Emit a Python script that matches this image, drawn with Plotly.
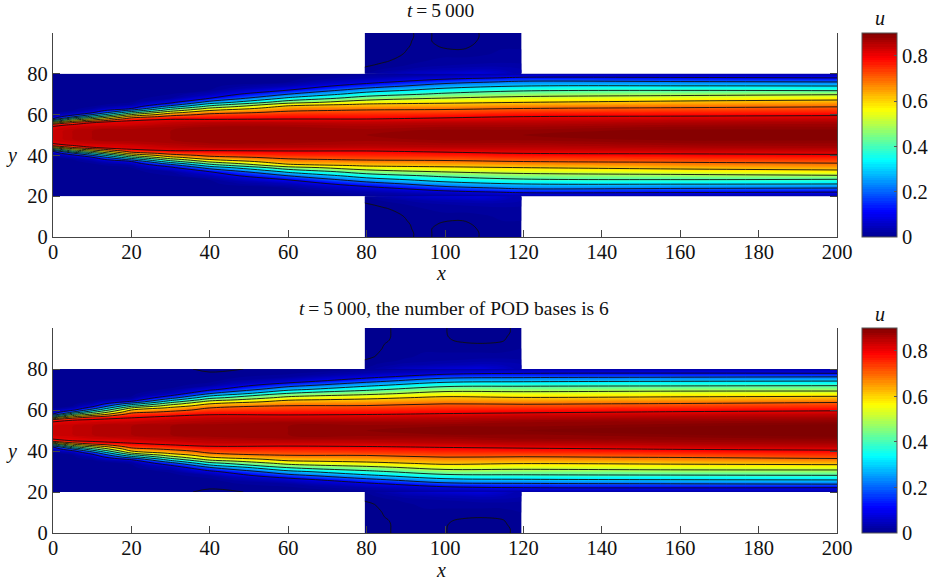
import plotly.graph_objects as go

FONT = "Liberation Serif"
W, H = 935, 580
L, R, T, B = 53, 837, 33, 533  # plot-area edges in pixels

# Offsets from the channel centre line (y = 50), channel half-height is 30
offsets = [0, 2, 4, 5, 6, 7, 8, 9, 10, 11, 12, 13, 14, 15, 16, 18, 20, 22, 24, 26, 28, 30]
stations = [0, 5, 10, 20, 30, 40, 60, 80, 100, 120, 160, 200]

# u read at each x station (one list per station, same order as offsets)
u_top = [
 [.83,.83,.81,.76,.55,.32,.10,.04,.02,.01,.005,.004,.004,.004,.004,.004,.004,.004,.004,.004,.004,.004],
 [.85,.85,.83,.81,.72,.55,.38,.18,.07,.03,.01,.005,.004,.004,.004,.004,.004,.004,.004,.004,.004,.004],
 [.86,.86,.84,.82,.80,.66,.50,.34,.20,.09,.04,.02,.01,.005,.004,.004,.004,.004,.004,.004,.004,.004],
 [.87,.87,.85,.83,.82,.80,.74,.64,.50,.37,.23,.10,.05,.02,.01,.005,.004,.004,.004,.004,.004,.004],
 [.87,.87,.86,.85,.84,.82,.79,.73,.66,.57,.46,.36,.24,.14,.08,.02,.01,.005,.004,.004,.004,.004],
 [.88,.88,.87,.86,.85,.82,.79,.76,.72,.67,.60,.52,.43,.34,.24,.10,.04,.01,.005,.004,.004,.004],
 [.88,.88,.87,.86,.85,.825,.795,.775,.75,.72,.69,.66,.62,.555,.46,.32,.20,.10,.04,.01,.005,.004],
 [.88,.875,.865,.855,.845,.825,.795,.775,.755,.735,.71,.675,.64,.61,.56,.45,.35,.25,.15,.07,.03,.01],
 [.89,.885,.87,.86,.85,.83,.81,.785,.76,.735,.715,.685,.65,.62,.585,.505,.42,.34,.255,.165,.07,.01],
 [.89,.885,.87,.86,.85,.835,.82,.80,.775,.75,.725,.70,.67,.635,.60,.53,.46,.385,.30,.22,.115,.02],
 [.90,.895,.88,.87,.86,.845,.83,.805,.785,.76,.735,.71,.685,.655,.625,.55,.475,.395,.305,.21,.11,.02],
 [.90,.895,.88,.875,.865,.85,.835,.81,.79,.765,.745,.72,.695,.67,.64,.57,.49,.385,.30,.20,.10,.02],
]
u_bottom = [
 [.83,.83,.81,.76,.55,.30,.10,.04,.02,.01,.005,.004,.004,.004,.004,.004,.004,.004,.004,.004,.004,.004],
 [.84,.84,.82,.80,.70,.55,.38,.20,.08,.03,.01,.005,.004,.004,.004,.004,.004,.004,.004,.004,.004,.004],
 [.85,.85,.83,.81,.78,.65,.50,.38,.25,.14,.07,.03,.012,.005,.004,.004,.004,.004,.004,.004,.004,.004],
 [.86,.86,.84,.82,.805,.775,.735,.665,.60,.50,.375,.25,.12,.04,.012,.005,.004,.004,.004,.004,.004,.004],
 [.87,.87,.85,.84,.82,.80,.76,.72,.665,.62,.545,.46,.36,.26,.16,.04,.012,.005,.004,.004,.004,.004],
 [.88,.88,.86,.85,.84,.82,.79,.76,.73,.70,.65,.60,.54,.45,.37,.20,.08,.02,.006,.004,.004,.004],
 [.88,.88,.87,.855,.84,.815,.79,.77,.745,.725,.705,.665,.63,.59,.53,.41,.275,.165,.06,.02,.006,.004],
 [.89,.885,.87,.855,.84,.82,.795,.775,.755,.735,.705,.675,.645,.615,.575,.475,.38,.28,.175,.08,.03,.01],
 [.90,.89,.87,.86,.85,.83,.805,.785,.765,.745,.725,.70,.67,.645,.62,.54,.46,.375,.275,.175,.07,.02],
 [.90,.89,.88,.87,.855,.84,.815,.79,.77,.745,.72,.695,.665,.635,.605,.535,.46,.385,.29,.19,.095,.02],
 [.91,.90,.885,.875,.865,.85,.83,.805,.78,.755,.73,.705,.675,.645,.615,.545,.47,.39,.30,.20,.10,.02],
 [.92,.91,.89,.88,.87,.855,.84,.815,.79,.765,.745,.72,.69,.655,.625,.55,.47,.395,.305,.21,.095,.02],
]
# The small closed zero-level patch along the channel wall of the lower panel
edge_patch_station = 40
edge_patch_values = [.001, -.003]

# Cavity above and below the channel, y measured as offset from y = 50
cavity_x = [79.5, 84.5, 89.5, 94.5, 99.5, 104.5, 109.5, 114.5, 119.5]
cavity_offsets = [30, 32, 34, 36, 38, 40, 42, 44, 46, 48, 50]
cavity_top = [
 [.010,.004,-.002,-.005,-.008,-.010,-.010,-.010,-.010,-.010,-.010],
 [.030,.012,.004,-.001,-.004,-.006,-.008,-.008,-.008,-.008,-.008],
 [.050,.020,.010,.005,.002,.000,-.001,-.002,-.002,-.003,-.003],
 [.060,.030,.015,.010,.008,.006,.005,.004,.003,.003,.003],
 [.070,.035,.020,.012,.010,.006,.001,-.002,-.004,-.004,-.004],
 [.075,.040,.022,.014,.010,.005,.000,-.003,-.005,-.005,-.005],
 [.080,.045,.025,.015,.012,.008,.005,.003,.002,.001,.001],
 [.060,.040,.025,.018,.014,.012,.010,.008,.006,.005,.005],
 [.030,.030,.022,.018,.015,.012,.010,.010,.008,.008,.008],
]
cavity_bottom = [
 [.010,.005,.001,-.003,-.005,-.008,-.010,-.010,-.010,-.010,-.010],
 [.030,.015,.006,.003,.002,.001,.000,-.001,-.001,-.001,-.001],
 [.050,.025,.012,.008,.006,.005,.004,.003,.002,.002,.002],
 [.060,.030,.016,.012,.010,.008,.006,.005,.004,.004,.004],
 [.070,.035,.020,.014,.010,.007,.004,.002,.001,.001,.001],
 [.075,.040,.022,.015,.010,.006,.002,-.002,-.003,-.004,-.004],
 [.080,.045,.025,.016,.010,.005,.001,-.003,-.005,-.005,-.005],
 [.060,.040,.025,.016,.010,.006,.002,-.001,-.002,-.003,-.003],
 [.030,.030,.022,.016,.012,.010,.008,.006,.005,.004,.004],
]

colorbar_ticks = [0, 0.2, 0.4, 0.6, 0.8]
axis_x_ticks = list(range(0, 201, 20))
axis_y_ticks = [0, 20, 40, 60, 80]
titles = ["<i>t</i>\u2009=\u20095\u2009000", "<i>t</i>\u2009=\u20095\u2009000, the number of POD bases is 6"]

JET = [[0, "#00008f"], [1/8, "#0000ff"], [3/8, "#00ffff"], [5/8, "#ffff00"], [7/8, "#ff0000"], [1, "#800000"]]


def px(v):
    return (v - L) / (R - L)


def py(v):
    return (B - v) / (B - T)


def transpose(cols):
    return [list(r) for r in zip(*cols)]


def channel_grid(cols):
    rows = transpose(cols)
    ys = [50 - d for d in reversed(offsets)] + [50 + d for d in offsets[1:]]
    zs = rows[::-1] + rows[1:]
    return ys, zs


def add_field(fig, x, y, z, xa, ya, show_bar=False, bar=None):
    fill = go.Contour(
        x=x, y=y, z=z, xaxis=xa, yaxis=ya, colorscale=JET, zauto=False, zmin=0, zmax=0.9,
        autocontour=False, contours=dict(start=0, end=0.9, size=0.01, coloring="fill", showlines=False),
        line=dict(width=0), showscale=show_bar, colorbar=bar, hoverinfo="skip",
    )
    lines = go.Contour(
        x=x, y=y, z=z, xaxis=xa, yaxis=ya, autocontour=False,
        contours=dict(start=0, end=0.8, size=0.1, coloring="none"),
        line=dict(color="#101010", width=0.9), showscale=False, hoverinfo="skip",
    )
    fig.add_trace(fill)
    fig.add_trace(lines)


def add_panel(fig, cols, cavity, xa, ya, top_px, bottom_px):
    ys, zs = channel_grid(cols)
    bar = dict(
        x=px(862), xref="paper", xanchor="left", xpad=0, ypad=0, thickness=35,
        lenmode="pixels", len=bottom_px - top_px, y=py((top_px + bottom_px) / 2), yanchor="middle",
        yref="paper", outlinecolor="#555555", outlinewidth=1, tickmode="array", tickvals=colorbar_ticks,
        ticktext=["0", "0.2", "0.4", "0.6", "0.8"], ticks="inside", ticklen=3, tickcolor="#555555",
        tickfont=dict(family=FONT, size=20.5, color="#111"),
    )
    add_field(fig, stations, ys, zs, xa, ya, True, bar)
    rows = transpose(cavity)
    add_field(fig, cavity_x, [50 + d for d in cavity_offsets], rows, xa, ya)
    add_field(fig, cavity_x, [50 - d for d in reversed(cavity_offsets)], rows[::-1], xa, ya)


# wall patch in the lower panel: the two outermost offsets at x = 40
patched = [list(c) for c in u_bottom]
idx = stations.index(edge_patch_station)
patched[idx][-2:] = edge_patch_values

fig = go.Figure()
add_panel(fig, u_top, cavity_top, "x", "y", 33, 237)
add_panel(fig, patched, cavity_bottom, "x2", "y2", 328, 533)

axis_common = dict(
    ticks="inside", ticklen=7, tickwidth=1, tickcolor="#444444", showline=True, linecolor="#444444",
    linewidth=1.2, showgrid=False, zeroline=False, tickfont=dict(family=FONT, size=20.5, color="#111"),
)
x_common = dict(range=[0, 200], tickmode="array", tickvals=axis_x_ticks, automargin=False, ticklabelstandoff=-4, **axis_common)
y_common = dict(range=[0, 100], tickmode="array", tickvals=axis_y_ticks, mirror="ticks", automargin=False, **axis_common)
label = dict(family=FONT, size=20, color="#111")


def note(text, xp, yp, font):
    return dict(text=text, x=px(xp), y=py(yp), xref="paper", yref="paper", showarrow=False,
                xanchor="center", yanchor="middle", font=font)


title_font = dict(family=FONT, size=19.5, color="#111")
fig.update_layout(
    width=W, height=H, autosize=False, margin=dict(l=L, r=W - R, t=T, b=H - B, pad=0, autoexpand=False),
    paper_bgcolor="white", plot_bgcolor="white", showlegend=False,
    xaxis=dict(domain=[0, 1], anchor="y", **x_common),
    yaxis=dict(domain=[py(237), py(33)], anchor="x", **y_common),
    xaxis2=dict(domain=[0, 1], anchor="y2", **x_common),
    yaxis2=dict(domain=[py(533), py(328)], anchor="x2", **y_common),
    annotations=[
        note(titles[0], 440, 11, title_font),
        note(titles[1], 454, 308, title_font),
        note("<i>x</i>", 441, 273, label),
        note("<i>x</i>", 441, 570, label),
        note("<i>y</i>", 11, 155, label),
        note("<i>y</i>", 11, 451, label),
        note("<i>u</i>", 880, 18, label),
        note("<i>u</i>", 880, 314, label),
    ],
)

fig.write_html("out.html", config={"displayModeBar": False}, post_script="document.body.style.margin='0';")
